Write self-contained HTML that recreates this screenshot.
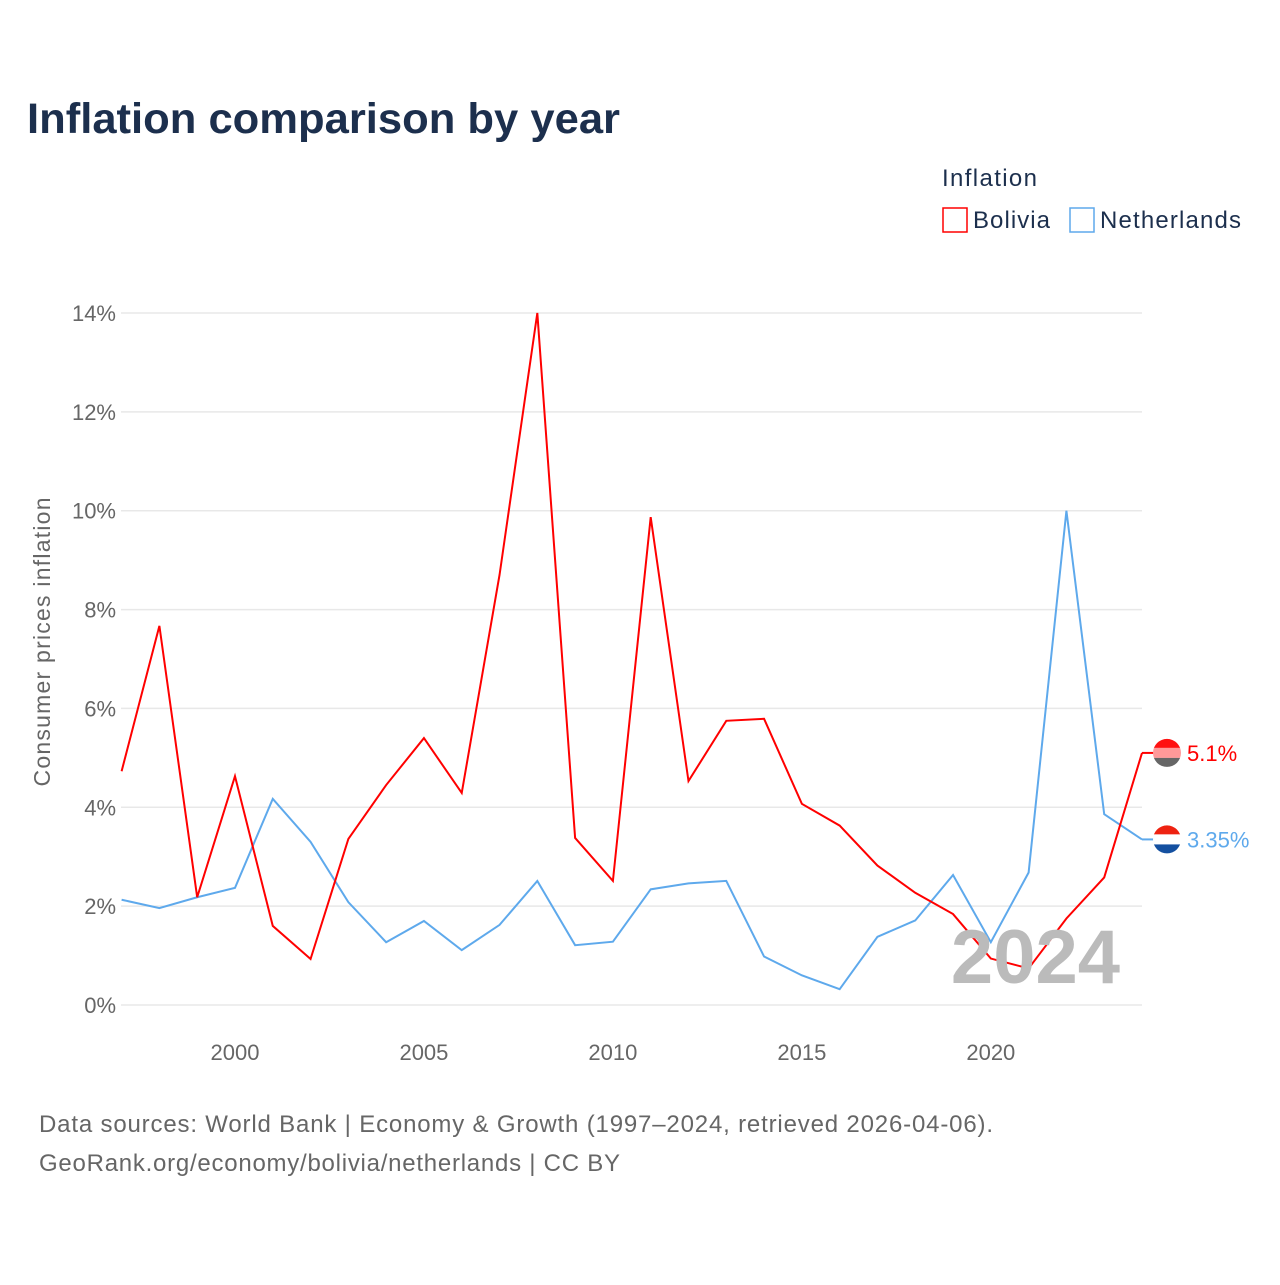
<!DOCTYPE html>
<html><head><meta charset="utf-8"><style>
body{margin:0;background:#fff;font-family:"Liberation Sans",sans-serif;}
</style></head><body>
<svg id="chart" width="1280" height="1280" xmlns="http://www.w3.org/2000/svg">
<text x="27" y="133" font-size="43" font-weight="bold" fill="#1c2f4d" textLength="593" lengthAdjust="spacingAndGlyphs">Inflation comparison by year</text>
<text x="942" y="186" font-size="24" fill="#1c2f4d" textLength="95">Inflation</text>
<g><rect x="943" y="208" width="24" height="24" fill="none" stroke="#f00" stroke-width="1.5"/><text x="973" y="228" font-size="24" fill="#1c2f4d" textLength="77">Bolivia</text></g>
<g><rect x="1070" y="208" width="24" height="24" fill="none" stroke="#5ea9ec" stroke-width="1.5"/><text x="1100" y="228" font-size="24" fill="#1c2f4d" textLength="141">Netherlands</text></g>
<text transform="translate(50,642) rotate(-90)" text-anchor="middle" font-size="23" fill="#666" textLength="289">Consumer prices inflation</text>
<g id="grid"></g><g id="marks"></g>
<text x="1120" y="983" text-anchor="end" font-size="76" font-weight="bold" fill="#bbb">2024</text>
<text x="39" y="1132" font-size="24" fill="#666" textLength="954">Data sources: World Bank | Economy &amp; Growth (1997–2024, retrieved 2026-04-06).</text>
<text x="39" y="1171" font-size="24" fill="#666" textLength="581">GeoRank.org/economy/bolivia/netherlands | CC BY</text>
</svg>
<script>
const years=[1997,1998,1999,2000,2001,2002,2003,2004,2005,2006,2007,2008,2009,2010,2011,2012,2013,2014,2015,2016,2017,2018,2019,2020,2021,2022,2023,2024];
const bolivia=[4.73,7.67,2.18,4.63,1.60,0.93,3.36,4.45,5.40,4.29,8.70,14.0,3.38,2.51,9.87,4.53,5.75,5.79,4.07,3.63,2.82,2.27,1.84,0.94,0.74,1.75,2.58,5.1];
const netherlands=[2.13,1.96,2.18,2.37,4.17,3.30,2.08,1.27,1.70,1.11,1.62,2.51,1.21,1.28,2.34,2.46,2.51,0.98,0.60,0.32,1.38,1.71,2.63,1.27,2.68,10.0,3.86,3.35];
const yTicks=[0,2,4,6,8,10,12,14];
const xTicks=[2000,2005,2010,2015,2020];
const NS="http://www.w3.org/2000/svg";
const X=v=>121.6+(v-1997)*(1142-121.6)/27;
const Y=v=>1005-v*(1005-313)/14;
function mk(t,a,p){const e=document.createElementNS(NS,t);for(const k in a)e.setAttribute(k,a[k]);p.appendChild(e);return e;}
const grid=document.getElementById('grid'),marks=document.getElementById('marks');
yTicks.forEach(v=>{const l=mk('line',{x1:121,x2:1142,y1:Y(v),y2:Y(v),stroke:'#e8e8e8','stroke-width':1.5},grid);


const t=mk('text',{x:116,y:Y(v)+8,'text-anchor':'end','font-size':22,fill:'#666'},grid);t.textContent=v+'%';

});
xTicks.forEach(v=>{const t=mk('text',{x:X(v),y:1060,'text-anchor':'middle','font-size':22,fill:'#666'},grid);t.textContent=v;

});
function series(vals,color,name,label,flag){
const p=mk('polyline',{points:vals.map((v,i)=>X(years[i])+','+Y(v)).join(' '),fill:'none',stroke:color,'stroke-width':2},marks);


const last=vals[vals.length-1],cy=Y(last);
const g=mk('g',{},marks);


mk('line',{x1:1142,x2:1155,y1:cy,y2:cy,stroke:color,'stroke-width':2},g);
mk('rect',{x:1152,y:cy-15,width:30,height:10,fill:flag[0]},g);
mk('rect',{x:1152,y:cy-5,width:30,height:10,fill:flag[1]},g);
mk('rect',{x:1152,y:cy+5,width:30,height:10,fill:flag[2]},g);
const cp=mk('clipPath',{id:'c'+name},g);mk('circle',{cx:1167,cy:cy,r:14},cp);
[...g.querySelectorAll('rect')].forEach(r=>r.setAttribute('clip-path','url(#c'+name+')'));
const t=mk('text',{x:1187,y:cy+8,'font-size':22,fill:color},marks);t.textContent=label;

}
series(netherlands,'#5ea9ec','netherlands','3.35%',['#e21','#fff','#1450a0']);
series(bolivia,'#f00','bolivia','5.1%',['#f11','#f99','#666']);
</script>
</body></html>
